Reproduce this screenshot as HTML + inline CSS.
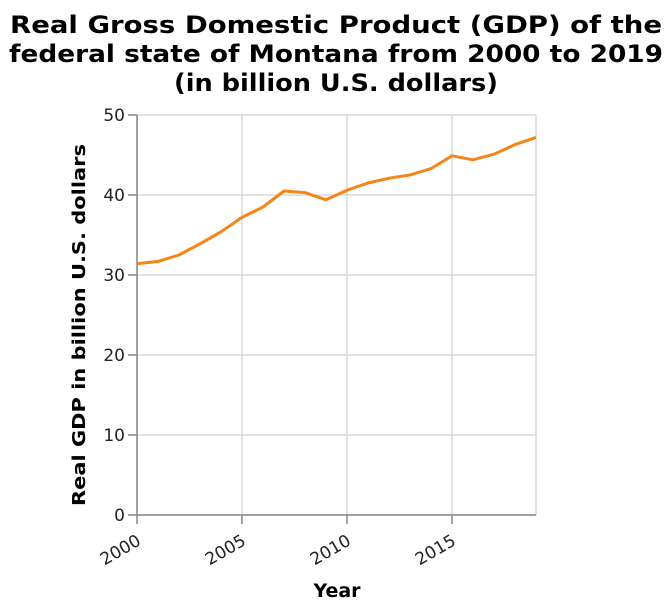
<!DOCTYPE html>
<html><head><meta charset="utf-8"><style>
body{margin:0;background:#fff;}
svg text{font-family:"DejaVu Sans","Liberation Sans",sans-serif;}
</style></head><body>
<svg width="672" height="610" viewBox="0 0 672 610" id="c">
<text x="336" y="33" text-anchor="middle" font-size="24" font-weight="bold" textLength="652" lengthAdjust="spacingAndGlyphs">Real Gross Domestic Product (GDP) of the</text>
<text x="336" y="62" text-anchor="middle" font-size="24" font-weight="bold" textLength="654" lengthAdjust="spacingAndGlyphs">federal state of Montana from 2000 to 2019</text>
<text x="336" y="91" text-anchor="middle" font-size="24" font-weight="bold" textLength="324" lengthAdjust="spacingAndGlyphs">(in billion U.S. dollars)</text>
<g id="grid"></g>
<g id="axes"></g>
<text x="337" y="597" text-anchor="middle" font-size="19" font-weight="bold">Year</text>
<text transform="translate(85,325) rotate(-90)" text-anchor="middle" font-size="18" font-weight="bold" textLength="362" lengthAdjust="spacingAndGlyphs">Real GDP in billion U.S. dollars</text>
</svg>
<script>
const years=[2000,2001,2002,2003,2004,2005,2006,2007,2008,2009,2010,2011,2012,2013,2014,2015,2016,2017,2018,2019];
const gdp=[31.4,31.7,32.5,33.9,35.4,37.2,38.5,40.5,40.3,39.4,40.6,41.5,42.1,42.5,43.3,44.9,44.4,45.1,46.3,47.2];
const yTicks=[0,10,20,30,40,50];
const xTicks=[2000,2005,2010,2015];
const L=137,R=536,T=115,B=515;
const x=v=>L+(v-2000)/19*(R-L);
const y=v=>B-v/50*(B-T);
const NS='http://www.w3.org/2000/svg';
const grid=document.getElementById('grid'),axes=document.getElementById('axes');
function mk(tag,attrs,parent){const e=document.createElementNS(NS,tag);for(const k in attrs)e.setAttribute(k,attrs[k]);parent.appendChild(e);return e;}
yTicks.forEach(t=>{
 const g=mk('line',{x1:L,x2:R,y1:y(t),y2:y(t),stroke:'#d9d9d9','stroke-width':1.5},grid);
 
 
 mk('line',{x1:L-9,x2:L,y1:y(t),y2:y(t),stroke:'#888','stroke-width':1.5},axes);
 const tx=mk('text',{x:L-12,y:y(t)+6,'text-anchor':'end','font-size':17,fill:'#222'},axes);
 tx.textContent=t;
 
 
});
xTicks.concat([2019]).forEach(t=>{
 const g=mk('line',{x1:x(t),x2:x(t),y1:T,y2:B,stroke:'#d9d9d9','stroke-width':1.5},grid);
 
 
});
xTicks.forEach(t=>{
 mk('line',{x1:x(t),x2:x(t),y1:B,y2:B+9,stroke:'#888','stroke-width':1.5},axes);
 const tx=mk('text',{x:x(t)+5,y:B+29,'text-anchor':'end','font-size':17,fill:'#222',transform:`rotate(-30 ${x(t)+5} ${B+29})`},axes);
 tx.textContent=t;
 
 
});
mk('line',{x1:L,x2:L,y1:T,y2:B,stroke:'#888','stroke-width':1.5},axes);
mk('line',{x1:L,x2:R,y1:B,y2:B,stroke:'#888','stroke-width':1.5},axes);
const p=mk('polyline',{points:years.map((yr,i)=>x(yr)+','+y(gdp[i])).join(' '),fill:'none',stroke:'#f58518','stroke-width':3,'stroke-linejoin':'round'},document.getElementById('c'));


</script>
</body></html>
